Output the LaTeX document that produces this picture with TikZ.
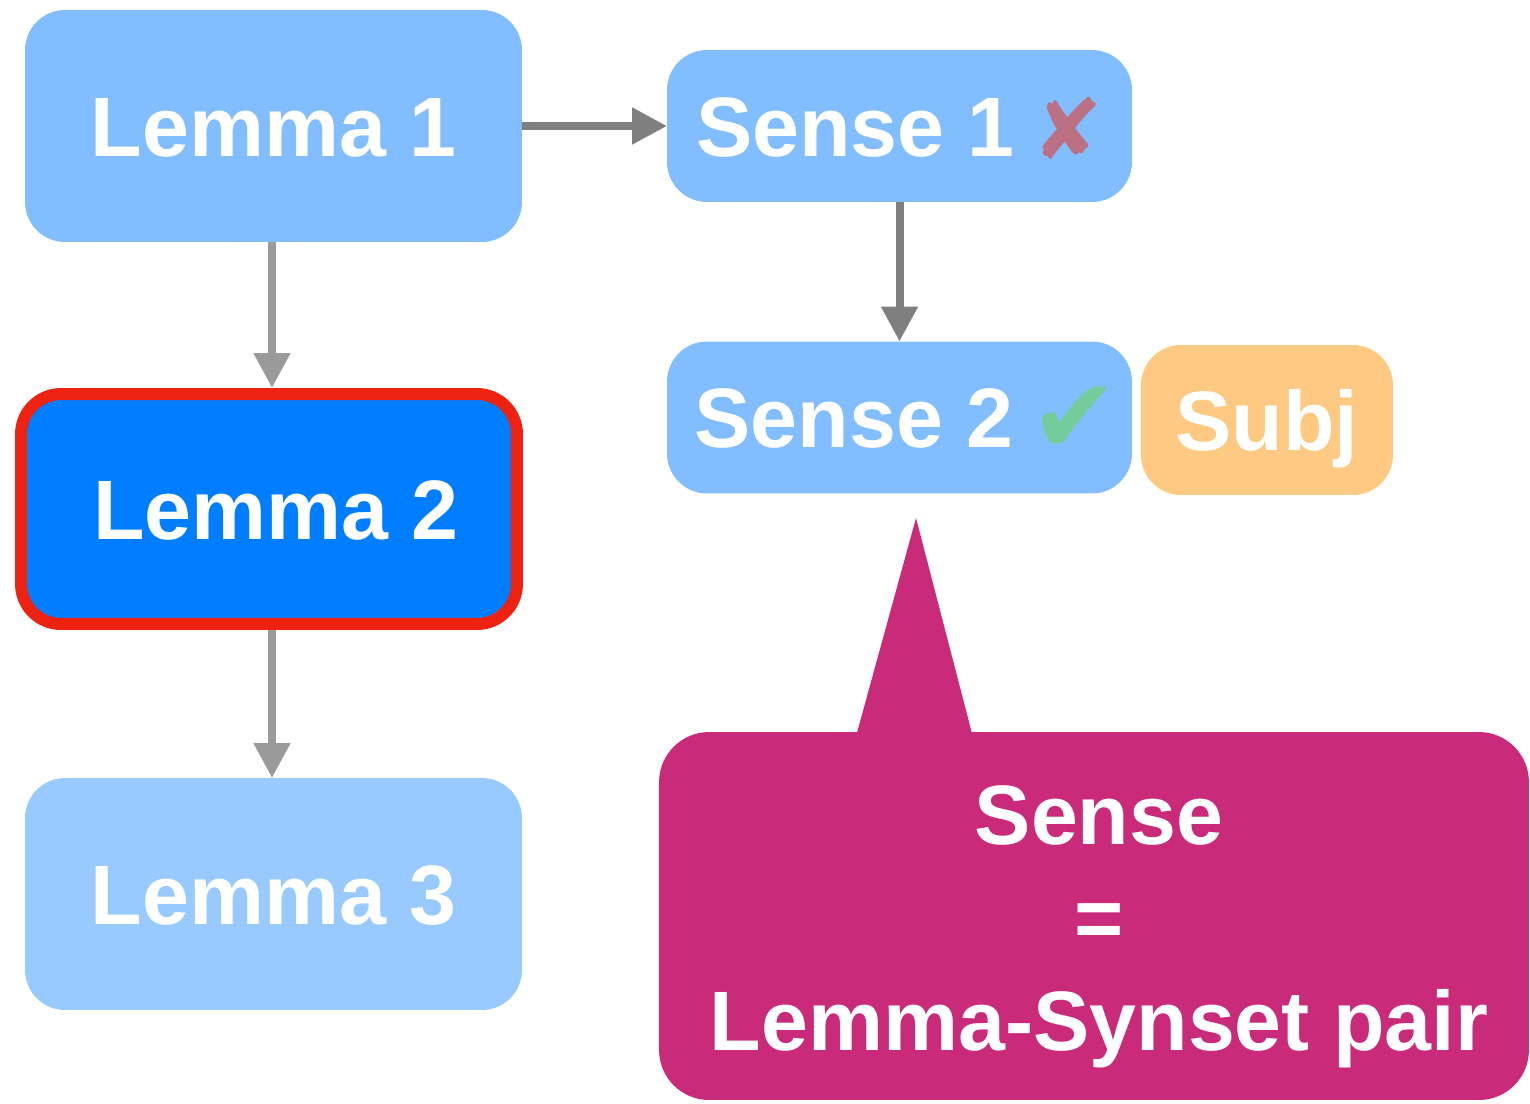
\documentclass[tikz,border=0pt]{standalone}
\usepackage{fontspec}
\setmainfont{Liberation Sans}
\newfontfamily\symfont{DejaVu Sans}
\usetikzlibrary{arrows.meta}
\definecolor{lemmaA}{HTML}{82BEFF}
\definecolor{lemmaB}{HTML}{007EFF}
\definecolor{lemmaC}{HTML}{99CAFF}
\definecolor{redline}{HTML}{EE2211}
\definecolor{subjc}{HTML}{FEC982}
\definecolor{pinkc}{HTML}{CA2A7A}
\definecolor{crossc}{HTML}{BB7083}
\definecolor{checkc}{HTML}{74CB9B}
\definecolor{darkarrow}{HTML}{7F7F7F}
\definecolor{lightarrow}{HTML}{9A9A9A}
\tikzset{
  bigtext/.style={font=\fontsize{48}{58.5}\selectfont\bfseries, text=white, text height=34.4pt, text depth=0pt},
  box/.style={bigtext, rounded corners=0.8cm, inner sep=0pt, outer sep=0pt},
  conn/.style={line width=0.16cm, -{Triangle[length=0.7cm,width=0.7cm]}},
}
\begin{document}
\begin{tikzpicture}[x=0.02cm,y=-0.02cm]
\useasboundingbox (0,0) rectangle (1530,1103);
% nodes
\node[box, fill=lemmaA, minimum width=9.94cm, minimum height=4.64cm] (L1) at (273.5,126) {Lemma 1};
\node[box, fill=lemmaB, draw=redline, line width=0.24cm, outer sep=0.12cm, minimum width=9.92cm, minimum height=4.6cm] (L2) at (269,509) {\hspace{0.28cm}Lemma 2};
\node[box, fill=lemmaC, minimum width=9.94cm, minimum height=4.64cm] (L3) at (273.5,894) {Lemma 3};
\node[box, fill=lemmaA, minimum width=9.3cm, minimum height=3.04cm] (S1) at (899.5,126) {Sense 1\hspace{0.35cm}{\symfont\color{crossc}\raisebox{-2pt}{✘}}};
\node[box, fill=lemmaA, minimum width=9.3cm, minimum height=3.04cm] (S2) at (899.5,417.5) {\hspace{0.3cm}Sense 2\hspace{0.35cm}{\symfont\fontsize{60}{60}\selectfont\color{checkc}\raisebox{-3pt}{✔}}};
\node[box, fill=subjc, minimum width=5.04cm, minimum height=3.0cm] (Subj) at (1267,420) {Subj};
% callout
\node[fill=pinkc, rounded corners=1cm, minimum width=17.4cm, minimum height=7.36cm, inner sep=0pt] (callout) at (1094,916) {};
\fill[pinkc] (855,740) -- (916,518) -- (975,745) -- cycle;
\node[font=\fontsize{48}{58.5}\selectfont\bfseries, text=white, align=center, inner sep=0pt] (calltext) at (1099,927) {Sense\\=\\Lemma-Synset pair};
% connectors
\draw[conn, darkarrow] (L1) -- (S1);
\draw[conn, lightarrow] ([xshift=-0.03cm]L1.south) -- ([xshift=-0.03cm]L1.south |- L2.north);
\draw[conn, lightarrow] ([xshift=-0.03cm]L1.south |- L2.south) -- ([xshift=-0.03cm]L1.south |- L3.north);
\draw[conn, darkarrow] (S1) -- (S2);
\end{tikzpicture}
\end{document}
